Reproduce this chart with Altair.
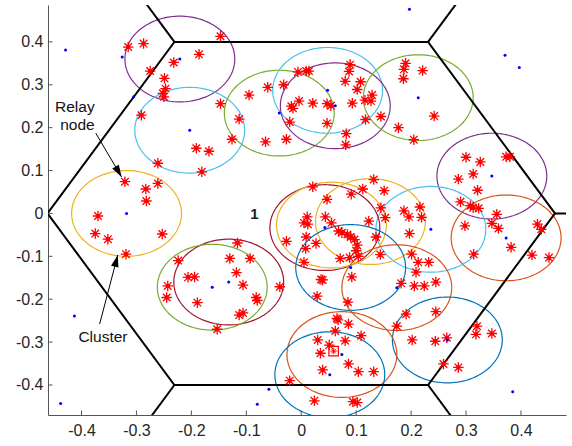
import altair as alt
import pandas as pd
import numpy as np

# ---------------- data ----------------
circle_x = [-0.221, -0.203, -0.318, -0.132, -0.162, -0.040, 0.048, 0.062, 0.213, 0.347,
            0.373, 0.236, 0.043, 0.055, 0.126, 0.090, 0.174, 0.266, 0.074, 0.052]
circle_y = [0.360, 0.194, 0.000, -0.160, -0.172, 0.234, 0.287, 0.251, 0.270, 0.087,
            -0.057, -0.037, -0.033, -0.027, -0.019, -0.126, -0.173, -0.295, -0.329, -0.376]
circle_color = ["#7E2F8E", "#4DBEEE", "#EDB120", "#A2142F", "#77AC30", "#77AC30", "#4DBEEE",
                "#7E2F8E", "#77AC30", "#7E2F8E", "#D95319", "#4DBEEE", "#A2142F", "#EDB120",
                "#EDB120", "#0072BD", "#D95319", "#0072BD", "#D95319", "#0072BD"]
circle_head_visible = [1, 1, 1, 1, 1, 1, 1, 1, 1, 1, 1, 1, 1, 0, 0, 1, 1, 1, 1, 1]
cluster_radius = 0.1

star_x = [-0.315, -0.287, -0.232, -0.275, -0.249, -0.247, -0.252, -0.250, -0.291, -0.186,
          -0.147, -0.147, -0.113, -0.095, -0.061, -0.032, -0.126, -0.065, -0.027, -0.191,
          -0.168, -0.006, 0.009, 0.014, -0.018, -0.015, -0.004, 0.021, 0.047, 0.054,
          -0.021, 0.047, 0.089, 0.087, 0.080, 0.108, 0.102, 0.129, 0.127, 0.116,
          0.093, 0.117, 0.145, 0.082, 0.081, 0.190, 0.187, 0.186, 0.221, 0.242,
          0.177, 0.205, -0.321, -0.283, -0.261, -0.282, -0.370, -0.375, -0.352, -0.253,
          -0.319, -0.261, -0.181, -0.224, -0.243, -0.206, -0.194, -0.245, -0.189, -0.116,
          -0.130, -0.093, -0.118, -0.106, -0.082, -0.080, -0.113, -0.106, -0.153, -0.039,
          0.021, 0.047, 0.091, 0.112, 0.132, 0.151, 0.145, 0.153, 0.123, 0.011,
          0.005, 0.012, 0.044, 0.055, -0.027, 0.009, 0.008, 0.027, 0.068, 0.074,
          0.084, 0.090, 0.097, 0.102, 0.100, 0.104, 0.136, 0.144, 0.071, 0.088,
          0.005, 0.036, 0.039, 0.092, 0.029, 0.187, 0.196, 0.216, 0.219, 0.197,
          0.201, 0.213, 0.232, 0.209, 0.182, 0.206, 0.224, 0.245, 0.300, 0.326,
          0.373, 0.380, 0.313, 0.286, 0.321, 0.290, 0.308, 0.313, 0.323, 0.356,
          0.347, 0.359, 0.298, 0.382, 0.314, 0.430, 0.437, 0.420, 0.451, 0.191,
          0.245, 0.174, 0.202, 0.244, 0.265, 0.320, 0.318, 0.347, 0.259, 0.286,
          0.085, 0.065, 0.067, 0.086, 0.062, 0.030, 0.051, 0.080, 0.109, 0.035,
          0.086, 0.039, 0.104, 0.132, -0.021, 0.024, 0.094, 0.102]
star_y = [0.388, 0.396, 0.352, 0.332, 0.315, 0.291, 0.280, 0.272, 0.229, 0.371,
          0.413, 0.256, 0.220, 0.276, 0.294, 0.300, 0.173, 0.167, 0.173, 0.152,
          0.145, 0.330, 0.332, 0.332, 0.250, 0.245, 0.262, 0.257, 0.256, 0.251,
          0.213, 0.210, 0.347, 0.331, 0.308, 0.307, 0.289, 0.276, 0.262, 0.264,
          0.257, 0.219, 0.226, 0.186, 0.160, 0.350, 0.336, 0.314, 0.333, 0.227,
          0.200, 0.172, 0.074, 0.057, 0.070, 0.029, -0.006, -0.047, -0.060, -0.048,
          -0.095, 0.117, 0.097, -0.110, -0.169, -0.149, -0.148, -0.196, -0.208, -0.069,
          -0.105, -0.105, -0.138, -0.167, -0.196, -0.203, -0.237, -0.232, -0.270, -0.171,
          0.062, 0.033, 0.045, 0.057, 0.079, 0.053, 0.013, -0.010, -0.018, -0.008,
          -0.022, -0.025, -0.008, -0.022, -0.065, -0.055, -0.082, -0.070, -0.041, -0.045,
          -0.049, -0.055, -0.061, -0.074, -0.087, -0.100, -0.055, -0.096, -0.105, -0.103,
          -0.114, -0.154, -0.155, -0.148, -0.193, 0.006, -0.008, 0.015, -0.009, -0.047,
          -0.095, -0.114, -0.114, -0.137, -0.163, -0.169, -0.169, -0.160, 0.131, 0.120,
          0.132, 0.132, 0.092, 0.080, 0.054, 0.027, 0.018, 0.013, 0.012, -0.002,
          -0.023, -0.035, -0.029, -0.079, -0.095, -0.025, -0.037, -0.097, -0.103, -0.235,
          -0.229, -0.263, -0.295, -0.298, -0.290, -0.263, -0.282, -0.280, -0.351, -0.359,
          -0.207, -0.245, -0.248, -0.258, -0.274, -0.295, -0.307, -0.297, -0.285, -0.326,
          -0.351, -0.365, -0.369, -0.369, -0.390, -0.437, -0.439, -0.441]

other_node_x = [-0.429, -0.326, -0.305, 0.197, 0.371, 0.397, -0.413, -0.438, -0.059, -0.080, 0.385]
other_node_y = [0.381, 0.365, 0.272, 0.476, 0.369, 0.340, -0.239, -0.443, -0.410, -0.445, -0.416]

base_station_x = [0.059]
base_station_y = [-0.321]

hex_x = [0.4619, 0.2309, -0.2309, -0.4619, -0.2309, 0.2309, 0.4619]
hex_y = [0.0, 0.4, 0.4, 0.0, -0.4, -0.4, 0.0]

tick_values = [-0.4, -0.3, -0.2, -0.1, 0.0, 0.1, 0.2, 0.3, 0.4]

labels_text = ["Relay", "node", "Cluster", "1"]
labels_x = [-0.376, -0.376, -0.361, -0.085]
labels_y = [0.237, 0.194, -0.299, -0.012]

arrow_x0 = [-0.374, -0.367]
arrow_y0 = [0.187, -0.258]
arrow_x1 = [-0.327, -0.334]
arrow_y1 = [0.085, -0.097]
arrow_angle = [149.5, 14.6]

# ---------------- tables ----------------
W, H = 518, 410
xs = alt.Scale(domain=[-0.461, 0.482], nice=False, zero=False)
ys = alt.Scale(domain=[-0.470, 0.486], nice=False, zero=False)
FONT = "Liberation Sans"

theta = np.linspace(0, 2 * np.pi, 145)
rows = []
for i, (cx, cy, c) in enumerate(zip(circle_x, circle_y, circle_color)):
    for k, t in enumerate(theta):
        rows.append(dict(cid=i, k=k, x=cx + cluster_radius * np.cos(t),
                         y=cy + cluster_radius * np.sin(t), color=c))
circ_df = pd.DataFrame(rows)

hex_df = pd.DataFrame(dict(k=list(range(len(hex_x))), x=hex_x, y=hex_y))
spoke_df = pd.DataFrame(dict(x=hex_x[:6], y=hex_y[:6],
                             x2=[2 * v for v in hex_x[:6]], y2=[2 * v for v in hex_y[:6]]))
star_df = pd.DataFrame(dict(x=star_x, y=star_y))
head_x = [x for x, v in zip(circle_x, circle_head_visible) if v] + other_node_x
head_y = [y for y, v in zip(circle_y, circle_head_visible) if v] + other_node_y
head_df = pd.DataFrame(dict(x=head_x, y=head_y))
bs_df = pd.DataFrame(dict(x=base_station_x, y=base_station_y))
tick_df = pd.DataFrame(dict(x=tick_values, y=tick_values))
lab_df = pd.DataFrame(dict(text=labels_text, x=labels_x, y=labels_y))
arr_df = pd.DataFrame(dict(x=arrow_x0, y=arrow_y0, x2=arrow_x1, y2=arrow_y1, angle=arrow_angle))

label_expr = ("datum.value == 0 ? '0' : (datum.value < 0 ? '-' + format(-datum.value, '.1f')"
              " : format(datum.value, '.1f'))")
x_axis = alt.Axis(values=tick_values, labelExpr=label_expr, ticks=False, tickSize=0, grid=False,
                  title=None, domainColor="#555555", domainWidth=1, labelFont=FONT,
                  labelFontSize=16, labelColor="#262626", labelPadding=7)
y_axis = alt.Axis(values=tick_values, labelExpr=label_expr, ticks=False, tickSize=0, grid=False,
                  title=None, domainColor="#555555", domainWidth=1, labelFont=FONT,
                  labelFontSize=16, labelColor="#262626", labelPadding=5)


def X(f="x"):
    return alt.X(f"{f}:Q", scale=xs, axis=x_axis, title=None)


def Y(f="y"):
    return alt.Y(f"{f}:Q", scale=ys, axis=y_axis, title=None)


circles = alt.Chart(circ_df).mark_line(strokeWidth=1.2, clip=True).encode(
    x=X(), y=Y(), detail="cid:N", order="k:Q", color=alt.Color("color:N", scale=None))

hexagon = alt.Chart(hex_df).mark_line(color="black", strokeWidth=2, clip=True).encode(
    x=X(), y=Y(), order="k:Q")
spokes = alt.Chart(spoke_df).mark_rule(color="black", strokeWidth=2, clip=True).encode(
    x=X(), y=Y(), x2="x2:Q", y2="y2:Q")

xticks = alt.Chart(tick_df).mark_rule(color="#555555").encode(
    x=X(), y=alt.value(H), y2=alt.value(H - 4.5))
yticks = alt.Chart(tick_df).mark_rule(color="#555555").encode(
    y=Y(), x=alt.value(0), x2=alt.value(4.5))

ASTER = "M-1,0L1,0M0,-1L0,1M-0.72,-0.72L0.72,0.72M-0.72,0.72L0.72,-0.72"
stars = alt.Chart(star_df).mark_point(shape=ASTER, size=110, filled=False, stroke="#FF0000",
                                      strokeWidth=1.3, opacity=1, clip=True).encode(x=X(), y=Y())
star_dots = alt.Chart(star_df).mark_point(shape="circle", size=18, filled=True, color="#FF0000",
                                          opacity=1, clip=True).encode(x=X(), y=Y())
heads = alt.Chart(head_df).mark_point(shape="circle", size=9, filled=True, color="#0000FF",
                                      opacity=1, clip=True).encode(x=X(), y=Y())
bs_square = alt.Chart(bs_df).mark_point(shape="square", size=90, filled=False, stroke="#FF0000",
                                        strokeWidth=1.2, opacity=1).encode(x=X(), y=Y())
bs_star = alt.Chart(bs_df).mark_point(shape=ASTER, size=40, filled=False, stroke="#FF0000",
                                      strokeWidth=1, opacity=1).encode(x=X(), y=Y())

texts_rn = alt.Chart(lab_df.iloc[:2]).mark_text(font=FONT, fontSize=15.5, color="#111111",
                                                 align="right", baseline="alphabetic").encode(
    x=X(), y=Y(), text="text:N")
text_cl = alt.Chart(lab_df.iloc[2:3]).mark_text(font=FONT, fontSize=15.5, color="#111111",
                                                 align="center", baseline="alphabetic").encode(
    x=X(), y=Y(), text="text:N")
text_one = alt.Chart(lab_df.iloc[3:4]).mark_text(font=FONT, fontSize=15, fontWeight="bold",
                                                  color="#222222", align="center",
                                                  baseline="alphabetic").encode(
    x=X(), y=Y(), text="text:N")

arrow_lines = alt.Chart(arr_df).mark_rule(color="black", strokeWidth=1).encode(
    x=X(), y=Y(), x2="x2:Q", y2="y2:Q")
HEAD = "M0,0L-0.32,1L0.32,1Z"
arrow_heads = alt.Chart(arr_df).mark_point(shape=HEAD, size=576, filled=True, color="black",
                                           opacity=1, strokeWidth=0).encode(
    x=X("x2"), y=Y("y2"), angle=alt.Angle("angle:Q", scale=None))

chart = alt.layer(circles, hexagon, spokes, xticks, yticks, stars, star_dots, heads,
                  bs_square, bs_star, arrow_lines, arrow_heads, texts_rn, text_cl, text_one
                  ).properties(
    width=W, height=H, autosize="none",
    padding={"left": 48, "top": 5, "right": 6, "bottom": 31},
    background="white"
).configure_view(stroke=None)

chart.save("out.html", embed_options={"renderer": "svg", "actions": False})
